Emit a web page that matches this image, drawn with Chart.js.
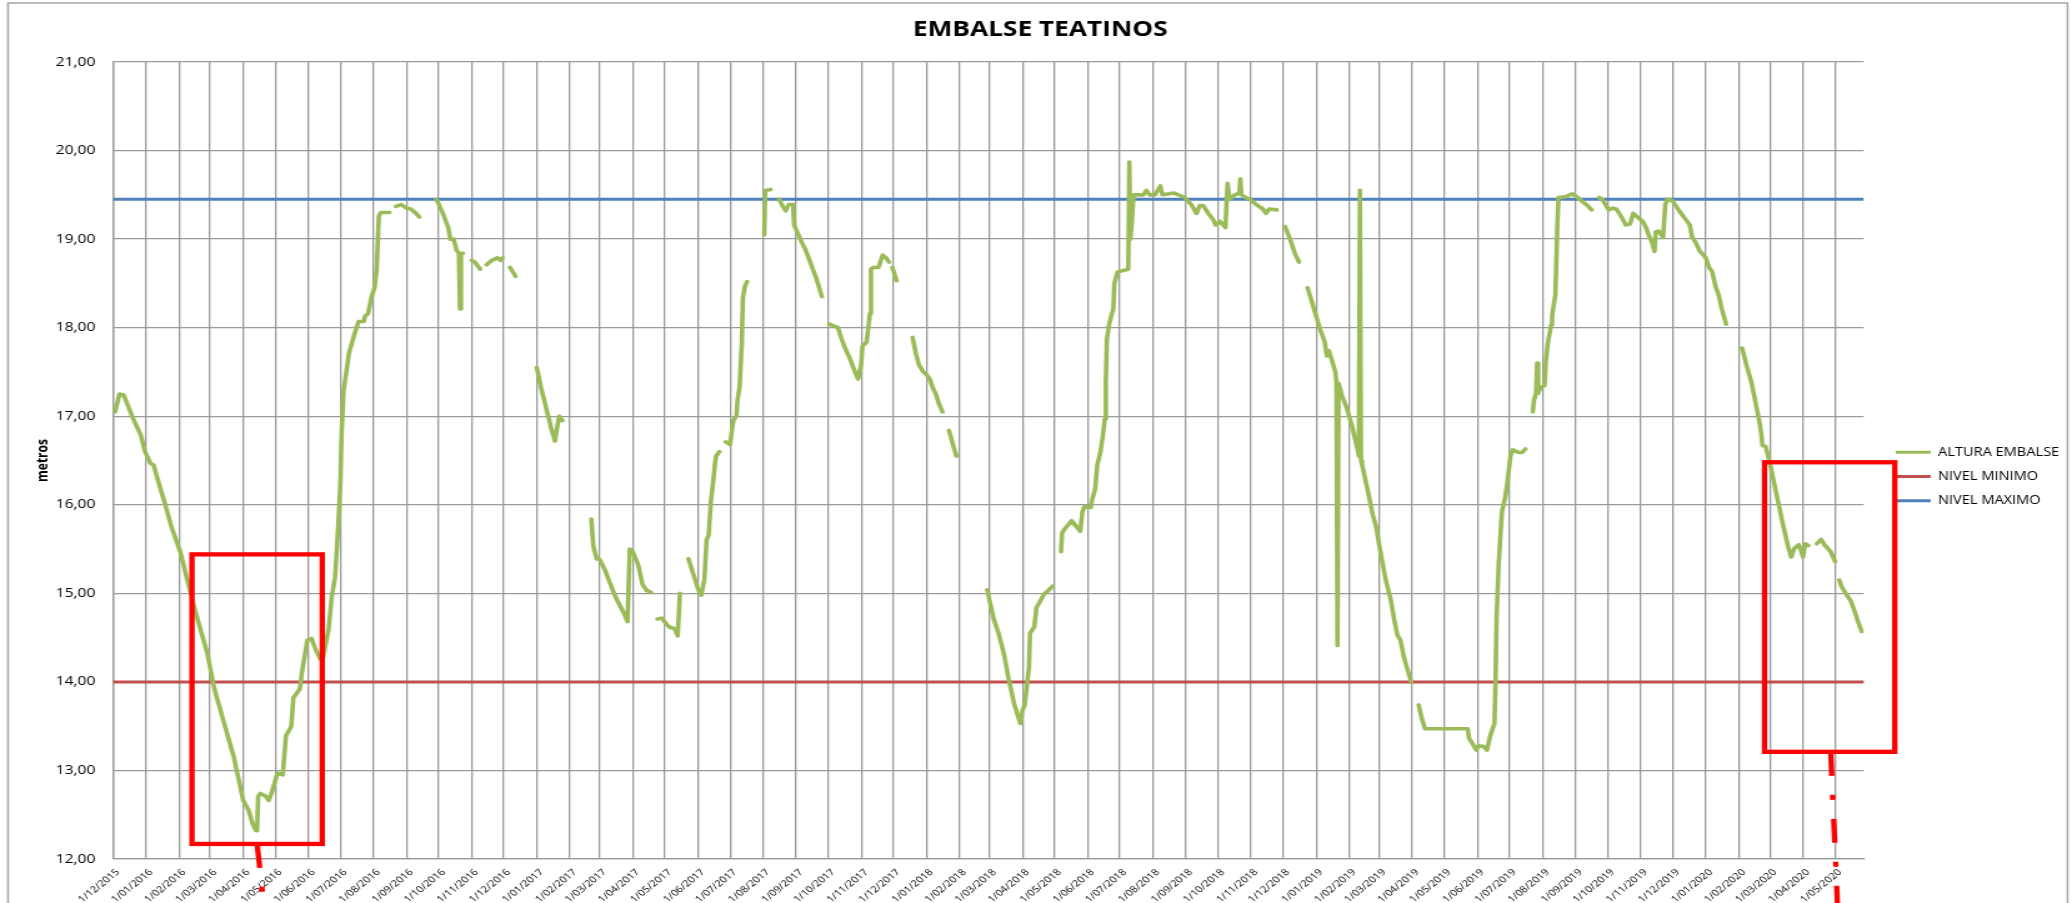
<!DOCTYPE html>
<html lang="es">
<head>
<meta charset="UTF-8">
<title>Embalse Teatinos</title>
<script src="https://cdn.jsdelivr.net/npm/chart.js"></script>
<style>
  html, body { margin: 0; padding: 0; background: #fff; overflow: hidden; }
</style>
</head>
<body>
<!-- the reference picture is stretched sideways, so the canvas is stretched too -->
<canvas id="grafico" width="1658" height="903" style="display:block;width:2072px;height:903px"></canvas>
<script>
// lecturas de altura (metros); null = sin dato
var fechas = [
  '2015-12-01','2015-12-03','2015-12-07','2015-12-11','2015-12-20','2015-12-27','2015-12-31',
  '2016-01-05','2016-01-08','2016-01-13','2016-01-19','2016-01-25','2016-02-02','2016-02-08','2016-02-17','2016-02-27',
  '2016-03-05','2016-03-13','2016-03-23','2016-04-01','2016-04-06','2016-04-10','2016-04-13','2016-04-14','2016-04-15',
  '2016-04-17','2016-04-22','2016-04-25','2016-04-28','2016-05-03','2016-05-08','2016-05-11','2016-05-16','2016-05-18',
  '2016-05-24','2016-05-26','2016-05-31','2016-06-04','2016-06-07','2016-06-12','2016-06-15','2016-06-20','2016-06-23',
  '2016-06-26','2016-06-29','2016-07-01','2016-07-02','2016-07-04','2016-07-06','2016-07-09','2016-07-14','2016-07-18',
  '2016-07-23','2016-07-24','2016-07-27','2016-07-30','2016-08-02','2016-08-04','2016-08-06','2016-08-08','2016-08-16',
  '2016-08-19','2016-08-22','2016-08-27','2016-09-01','2016-09-05','2016-09-10','2016-09-13','2016-09-20',
  '2016-09-29','2016-10-05','2016-10-10','2016-10-12','2016-10-15','2016-10-18','2016-10-20','2016-10-21','2016-10-22',
  '2016-10-24','2016-10-28','2016-11-01','2016-11-04','2016-11-09','2016-11-12','2016-11-15','2016-11-20','2016-11-25',
  '2016-11-28','2016-11-30','2016-12-03','2016-12-07','2016-12-12','2016-12-20',
  '2017-01-01','2017-01-05','2017-01-10','2017-01-15','2017-01-18','2017-01-20','2017-01-22','2017-01-25','2017-02-05',
  '2017-02-21','2017-02-23','2017-02-26','2017-03-01','2017-03-06','2017-03-10','2017-03-16','2017-03-23','2017-03-27',
  '2017-03-29','2017-04-01','2017-04-06','2017-04-10','2017-04-14','2017-04-18','2017-04-21',
  '2017-04-24','2017-04-28','2017-05-02','2017-05-05','2017-05-10','2017-05-13','2017-05-15','2017-05-19',
  '2017-05-23','2017-05-27','2017-06-01','2017-06-04','2017-06-07','2017-06-09','2017-06-11','2017-06-13','2017-06-15',
  '2017-06-17','2017-06-18','2017-06-21','2017-06-24',
  '2017-06-27','2017-07-01','2017-07-04','2017-07-07','2017-07-08','2017-07-10','2017-07-12','2017-07-13','2017-07-15',
  '2017-07-17','2017-07-25','2017-08-02','2017-08-03','2017-08-08','2017-08-12',
  '2017-08-16','2017-08-19','2017-08-22','2017-08-25','2017-08-29','2017-08-30','2017-09-03','2017-09-06','2017-09-10',
  '2017-09-15','2017-09-20','2017-09-25','2017-09-28',
  '2017-10-02','2017-10-10','2017-10-13','2017-10-16','2017-10-21','2017-10-26','2017-10-29','2017-11-01','2017-11-02',
  '2017-11-06','2017-11-09','2017-11-10','2017-11-12','2017-11-17','2017-11-21','2017-11-24','2017-11-27','2017-11-28',
  '2017-11-30','2017-12-04','2017-12-10',
  '2017-12-19','2017-12-22','2017-12-25','2017-12-29','2018-01-01','2018-01-04','2018-01-07','2018-01-10','2018-01-13',
  '2018-01-16','2018-01-19','2018-01-22','2018-01-29','2018-02-10',
  '2018-02-27','2018-03-02','2018-03-05','2018-03-10','2018-03-15','2018-03-19','2018-03-24','2018-03-28','2018-03-30',
  '2018-04-01','2018-04-03','2018-04-05','2018-04-07','2018-04-08','2018-04-12','2018-04-14','2018-04-17','2018-04-21',
  '2018-04-25','2018-04-29','2018-05-03',
  '2018-05-07','2018-05-08','2018-05-10','2018-05-17','2018-05-21','2018-05-25','2018-05-27','2018-05-29','2018-06-04',
  '2018-06-05','2018-06-08','2018-06-10','2018-06-13','2018-06-15','2018-06-17','2018-06-18','2018-06-19','2018-06-21',
  '2018-06-23','2018-06-25','2018-06-26','2018-06-29','2018-07-09','2018-07-10','2018-07-11','2018-07-12','2018-07-14',
  '2018-07-23','2018-07-26','2018-07-29','2018-08-03','2018-08-08','2018-08-10','2018-08-21','2018-08-31','2018-09-06',
  '2018-09-11','2018-09-14','2018-09-17','2018-09-22','2018-09-26','2018-09-29','2018-10-03','2018-10-08','2018-10-10',
  '2018-10-12','2018-10-17','2018-10-21','2018-10-22','2018-10-23','2018-10-27','2018-11-01','2018-11-07','2018-11-12',
  '2018-11-15','2018-11-18','2018-11-25','2018-11-29',
  '2018-12-03','2018-12-06','2018-12-09','2018-12-12','2018-12-16','2018-12-20',
  '2018-12-24','2018-12-28','2019-01-01','2019-01-05','2019-01-09','2019-01-11','2019-01-13','2019-01-15','2019-01-19',
  '2019-01-20','2019-01-21','2019-01-22','2019-01-25','2019-01-30','2019-02-04','2019-02-09','2019-02-10','2019-02-11',
  '2019-02-12','2019-02-13','2019-02-18','2019-02-23','2019-02-26','2019-03-01','2019-03-07','2019-03-12','2019-03-15',
  '2019-03-18','2019-03-21','2019-03-24','2019-03-27','2019-03-31','2019-04-04',
  '2019-04-07','2019-04-10','2019-04-13','2019-05-23','2019-05-24','2019-05-28','2019-05-31','2019-06-02','2019-06-07',
  '2019-06-10','2019-06-13','2019-06-17','2019-06-18','2019-06-19','2019-06-21','2019-06-24','2019-06-27','2019-06-29',
  '2019-07-02','2019-07-04','2019-07-10','2019-07-13','2019-07-16','2019-07-20',
  '2019-07-23','2019-07-24','2019-07-26','2019-07-27','2019-07-28','2019-07-30','2019-08-03','2019-08-04','2019-08-06',
  '2019-08-09','2019-08-10','2019-08-13','2019-08-14','2019-08-15','2019-08-16','2019-08-23','2019-08-29','2019-09-03',
  '2019-09-08','2019-09-12','2019-09-16','2019-09-19',
  '2019-09-23','2019-09-26','2019-09-29','2019-10-02','2019-10-06','2019-10-09','2019-10-12','2019-10-15','2019-10-18',
  '2019-10-22','2019-10-25','2019-10-29','2019-11-03','2019-11-06','2019-11-09','2019-11-12','2019-11-14','2019-11-15',
  '2019-11-18','2019-11-22','2019-11-24','2019-11-26','2019-12-01','2019-12-07','2019-12-12','2019-12-17','2019-12-19',
  '2019-12-23','2019-12-26','2020-01-01','2020-01-04','2020-01-07','2020-01-10','2020-01-13','2020-01-16','2020-01-20',
  '2020-01-28',
  '2020-02-04','2020-02-08','2020-02-13','2020-02-17','2020-02-20','2020-02-22','2020-02-23','2020-02-26','2020-03-01',
  '2020-03-07','2020-03-13','2020-03-18','2020-03-21','2020-03-24','2020-03-28','2020-03-30','2020-04-01','2020-04-03',
  '2020-04-06','2020-04-10',
  '2020-04-14','2020-04-18','2020-04-21','2020-04-24','2020-04-27','2020-05-01','2020-05-03',
  '2020-05-05','2020-05-07','2020-05-11','2020-05-16','2020-05-19','2020-05-22','2020-05-26'
];
var altura = [
  17.08,17.05,17.25,17.24,16.97,16.79,16.60,
  16.47,16.45,16.24,16.00,15.74,15.47,15.18,14.76,14.34,
  13.92,13.58,13.16,12.66,12.55,12.39,12.32,12.32,12.71,
  12.74,12.71,12.66,12.76,12.97,12.95,13.39,13.50,13.82,
  13.92,14.11,14.47,14.49,14.39,14.26,14.28,14.60,14.97,
  15.18,15.76,16.24,16.76,17.29,17.45,17.71,17.92,18.07,
  18.07,18.13,18.16,18.34,18.45,18.66,19.26,19.30,19.30,
  null,19.37,19.39,19.35,19.34,19.29,19.25,null,
  19.45,19.29,19.13,19.00,19.00,18.87,18.84,18.21,18.84,
  18.84,null,18.76,18.74,18.66,null,18.71,18.76,18.79,
  18.76,18.79,null,18.68,18.58,null,
  17.55,17.32,17.08,16.84,16.72,16.87,17.00,16.95,null,
  15.84,15.53,15.39,15.38,15.26,15.13,14.95,14.79,14.68,
  15.50,15.47,15.32,15.10,15.03,15.01,null,
  14.71,14.72,14.66,14.62,14.60,14.52,15.00,null,
  15.39,15.24,15.05,14.98,15.16,15.60,15.66,16.03,16.24,
  16.47,16.55,16.60,null,
  16.71,16.68,16.95,17.00,17.18,17.34,17.82,18.34,18.47,
  18.52,null,19.05,19.55,19.56,null,
  19.45,19.38,19.32,19.39,19.39,19.16,19.05,18.97,18.87,
  18.71,18.55,18.35,null,
  18.04,18.00,17.89,17.79,17.66,17.50,17.42,17.60,17.79,
  17.84,18.16,18.66,18.68,18.68,18.82,18.79,18.74,null,
  18.68,18.53,null,
  17.89,17.71,17.58,17.50,17.47,17.42,17.32,17.24,17.13,
  17.05,null,16.84,16.55,null,
  15.04,14.87,14.71,14.53,14.29,14.03,13.76,13.60,13.53,
  13.68,13.74,13.95,14.16,14.55,14.62,14.84,14.90,14.99,
  15.03,15.08,null,
  15.47,15.68,15.72,15.82,15.76,15.70,15.92,15.98,15.97,
  16.05,16.18,16.45,16.60,16.76,16.97,17.39,17.87,18.03,
  18.13,18.21,18.50,18.63,18.66,19.87,19.00,19.13,19.50,
  19.50,19.55,19.50,19.50,19.60,19.50,19.52,19.47,19.39,
  19.29,19.38,19.38,19.29,19.23,19.16,19.20,19.13,19.63,
  19.45,19.50,19.52,19.68,19.50,19.47,19.44,19.38,19.34,
  19.29,19.34,19.33,null,
  19.14,19.05,18.95,18.84,18.74,null,
  18.45,18.29,18.13,17.97,17.84,17.68,17.74,17.66,17.50,
  17.37,14.41,17.37,17.24,17.08,16.87,16.61,16.55,19.55,
  16.50,16.45,16.18,15.89,15.76,15.55,15.16,14.92,14.71,
  14.53,14.47,14.29,14.16,14.00,null,
  13.74,13.58,13.47,13.47,13.37,13.29,13.23,13.28,13.27,
  13.23,13.39,13.53,14.00,14.71,15.34,15.92,16.08,16.24,
  16.55,16.62,16.59,16.59,16.63,null,
  17.05,17.18,17.26,17.60,17.26,17.32,17.35,17.60,17.82,
  18.03,18.13,18.37,18.76,19.18,19.47,19.48,19.51,19.47,
  19.42,19.38,19.33,null,
  19.47,19.45,19.39,19.33,19.35,19.34,19.29,19.23,19.16,
  19.17,19.29,19.25,19.20,19.13,19.03,18.95,18.86,19.08,
  19.09,19.02,19.39,19.45,19.43,19.32,19.24,19.16,19.03,
  18.95,18.87,18.79,18.68,18.63,18.47,18.37,18.21,18.04,
  null,
  17.77,17.58,17.37,17.13,16.95,16.80,16.67,16.66,16.47,
  16.13,15.79,15.53,15.41,15.51,15.55,15.49,15.41,15.56,
  15.54,null,
  15.56,15.61,15.55,15.51,15.47,15.36,null,
  15.15,15.08,15.00,14.91,14.81,14.70,14.57
];

var nivelMinimo = 14.00;
var nivelMaximo = 19.45;
var fechaInicio = '2015-12-01';
var fechaFin = '2020-05-28';

var etiquetasX = [
  '1/12/2015',
  '1/01/2016','1/02/2016','1/03/2016','1/04/2016','1/05/2016','1/06/2016',
  '1/07/2016','1/08/2016','1/09/2016','1/10/2016','1/11/2016','1/12/2016',
  '1/01/2017','1/02/2017','1/03/2017','1/04/2017','1/05/2017','1/06/2017',
  '1/07/2017','1/08/2017','1/09/2017','1/10/2017','1/11/2017','1/12/2017',
  '1/01/2018','1/02/2018','1/03/2018','1/04/2018','1/05/2018','1/06/2018',
  '1/07/2018','1/08/2018','1/09/2018','1/10/2018','1/11/2018','1/12/2018',
  '1/01/2019','1/02/2019','1/03/2019','1/04/2019','1/05/2019','1/06/2019',
  '1/07/2019','1/08/2019','1/09/2019','1/10/2019','1/11/2019','1/12/2019',
  '1/01/2020','1/02/2020','1/03/2020','1/04/2020','1/05/2020'
];

// recuadros rojos y flechas punteadas dibujados sobre el grafico (en unidades de datos)
var recuadros = [
  { desde: '2016-02-13', hasta: '2016-06-14', min: 12.17, max: 15.44 },
  { desde: '2020-02-25', hasta: '2020-06-26', min: 13.21, max: 16.48 }
];
var flechas = [
  { desde: ['2016-04-14', 12.17], hasta: ['2016-04-22', 11.3] },
  { desde: ['2020-04-27', 13.21], hasta: ['2020-05-04', 11.3] }
];

var BASE = Date.UTC(2015, 11, 1);
function dia(iso) {
  var p = iso.split('-').map(Number);
  return (Date.UTC(p[0], p[1] - 1, p[2]) - BASE) / 86400000;
}
function diaEtiqueta(txt) {
  var p = txt.split('/').map(Number);
  return (Date.UTC(p[2], p[1] - 1, p[0]) - BASE) / 86400000;
}

var xMin = dia(fechaInicio);
var xMax = dia(fechaFin);

var puntosAltura = fechas.map(function (f, i) { return { x: dia(f), y: altura[i] }; });

Chart.defaults.font.family = "'Open Sans', sans-serif";
Chart.defaults.color = '#000';

var GRIS = '#9a9a9a';

var fondoYMarco = {
  id: 'fondoYMarco',
  beforeDraw: function (chart) {
    var ctx = chart.ctx;
    ctx.save();
    ctx.fillStyle = '#fff';
    ctx.fillRect(0, 0, chart.width, chart.height);
    ctx.strokeStyle = '#a6a6a6';
    ctx.lineWidth = 1.5;
    ctx.strokeRect(6.4, 3, 1648, 1000);
    ctx.restore();
  }
};

// pequeños desplazamientos de la leyenda y del titulo
var ajusteBloques = {
  id: 'ajusteBloques',
  afterLayout: function (chart) {
    var lg = chart.legend;
    lg.left += 13; lg.right += 13;
    lg.top += 16; lg.bottom += 16;
    var tt = chart.titleBlock;
    tt.left += 10; tt.right += 10;
  }
};

var marcasRojas = {
  id: 'marcasRojas',
  afterDraw: function (chart) {
    var ctx = chart.ctx;
    var sx = chart.scales.x, sy = chart.scales.y;
    ctx.save();
    ctx.strokeStyle = '#ff0000';
    ctx.lineWidth = 4.3;
    recuadros.forEach(function (r) {
      var x1 = sx.getPixelForValue(dia(r.desde));
      var x2 = sx.getPixelForValue(dia(r.hasta));
      var y1 = sy.getPixelForValue(r.max);
      var y2 = sy.getPixelForValue(r.min);
      ctx.strokeRect(x1, y1, x2 - x1, y2 - y1);
    });
    ctx.setLineDash([24, 19, 5, 19]);
    ctx.lineCap = 'butt';
    flechas.forEach(function (f) {
      ctx.beginPath();
      ctx.moveTo(sx.getPixelForValue(dia(f.desde[0])), sy.getPixelForValue(f.desde[1]));
      ctx.lineTo(sx.getPixelForValue(dia(f.hasta[0])), sy.getPixelForValue(f.hasta[1]));
      ctx.stroke();
    });
    ctx.restore();
  }
};

new Chart(document.getElementById('grafico'), {
  type: 'line',
  data: {
    datasets: [
      {
        label: 'ALTURA EMBALSE',
        data: puntosAltura,
        borderColor: '#9bbb59',
        backgroundColor: '#9bbb59',
        borderWidth: 3.6,
        pointRadius: 0,
        spanGaps: false,
        tension: 0,
        borderJoinStyle: 'round',
        borderCapStyle: 'round'
      },
      {
        label: 'NIVEL MINIMO',
        data: [{ x: xMin, y: nivelMinimo }, { x: xMax, y: nivelMinimo }],
        borderColor: '#c0504d',
        backgroundColor: '#c0504d',
        borderWidth: 3,
        pointRadius: 0
      },
      {
        label: 'NIVEL MAXIMO',
        data: [{ x: xMin, y: nivelMaximo }, { x: xMax, y: nivelMaximo }],
        borderColor: '#4f81bd',
        backgroundColor: '#4f81bd',
        borderWidth: 3.2,
        pointRadius: 0
      }
    ]
  },
  options: {
    responsive: false,
    animation: false,
    devicePixelRatio: 1,
    layout: { padding: { left: 0, right: 13.2, top: 0, bottom: 0 } },
    scales: {
      x: {
        type: 'linear',
        min: xMin,
        max: xMax,
        afterBuildTicks: function (scale) {
          scale.ticks = etiquetasX.map(function (e) { return { value: diaEtiqueta(e) }; });
        },
        afterFit: function (scale) { scale.height = 44; },
        ticks: {
          autoSkip: false,
          maxRotation: 45,
          minRotation: 45,
          padding: 8,
          labelOffset: 4,
          font: { size: 9 },
          callback: function (v, i) { return etiquetasX[i]; }
        },
        grid: { color: GRIS, lineWidth: 1.3, drawTicks: false },
        border: { color: GRIS, width: 1.3 }
      },
      y: {
        min: 12,
        max: 21,
        afterFit: function (scale) { scale.width = 90.4; },
        ticks: {
          stepSize: 1,
          padding: 14,
          font: { size: 12.5 },
          callback: function (v) { return v.toFixed(2).replace('.', ','); }
        },
        title: {
          display: true,
          text: 'metros',
          font: { size: 12, weight: 'bold' },
          padding: { top: 27, bottom: 0 }
        },
        grid: { color: GRIS, lineWidth: 1.3, drawTicks: false },
        border: { color: GRIS, width: 1.3 }
      }
    },
    plugins: {
      title: {
        display: true,
        text: 'EMBALSE TEATINOS',
        font: { size: 21, weight: 'bold' },
        color: '#000',
        padding: { top: 17.4, bottom: 19.4 }
      },
      legend: {
        position: 'right',
        fullSize: false,
        labels: {
          boxWidth: 28,
          boxHeight: 3,
          padding: 12.5,
          font: { size: 11.7 },
          color: '#000',
          generateLabels: function (chart) {
            return chart.data.datasets.map(function (ds, i) {
              return {
                text: ds.label,
                fillStyle: ds.borderColor,
                strokeStyle: ds.borderColor,
                lineWidth: 0,
                hidden: false,
                datasetIndex: i,
                fontColor: '#000'
              };
            });
          }
        }
      },
      tooltip: { enabled: false }
    }
  },
  plugins: [fondoYMarco, ajusteBloques, marcasRojas]
});
</script>
</body>
</html>
